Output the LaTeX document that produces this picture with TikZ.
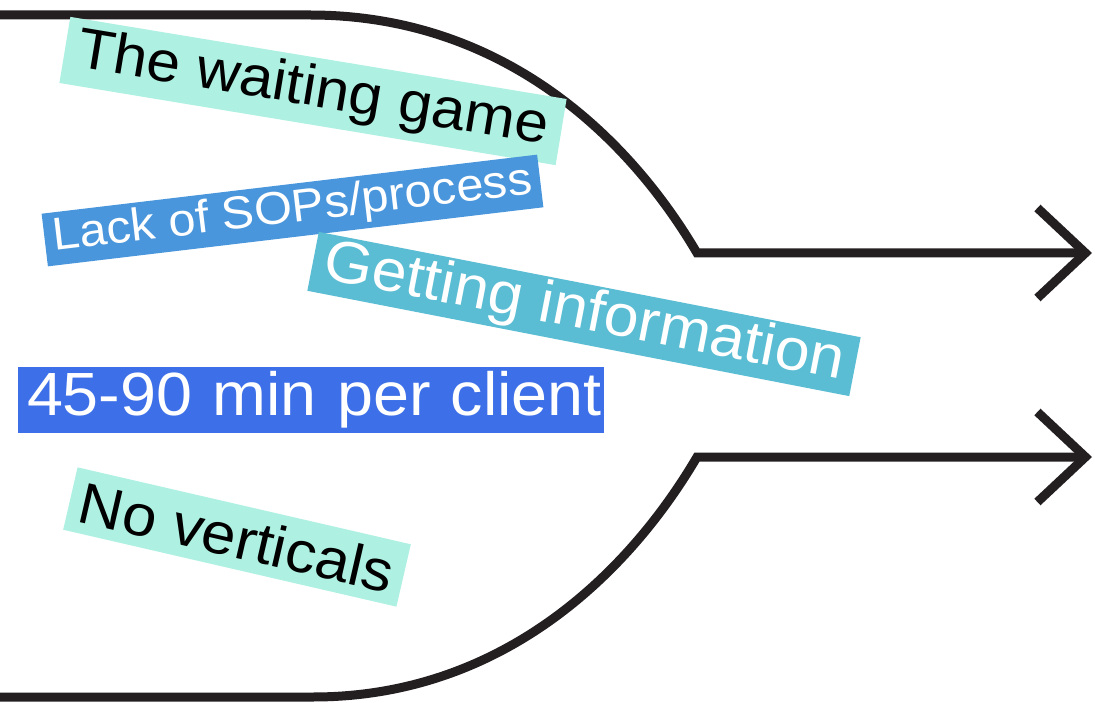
\documentclass[tikz,border=0pt]{standalone}
\usepackage{fontspec}
\setmainfont[FakeStretch=1.06]{Liberation Sans}
\usetikzlibrary{arrows.meta,positioning}
\definecolor{mint}{HTML}{AEF0E1}
\definecolor{sopblue}{HTML}{4A96DC}
\definecolor{infoteal}{HTML}{5ABDD3}
\definecolor{timeblue}{HTML}{3D70E8}
\definecolor{ink}{HTML}{231F20}
\tikzstyle{tag} = [inner sep=0pt, align=center]

\begin{document}
\begin{tikzpicture}[
            x = 1pt, y = -1pt, % pixel grid, origin top left
            > = {Straight Barb[length=48pt, width=90pt, sharp]}, % open chevron
            funnel/.style = {draw=ink, line width=9pt, line join=miter}
        ]

        \tikzstyle{light tag}=[tag, fill=mint, text=black]
        \tikzstyle{dark tag}=[tag, text=white]

        \useasboundingbox (0,0) rectangle (1095,703);

        % funnel outline
        \coordinate (top start) at (-10,15);
        \coordinate (top bend) at (310,15);
        \coordinate (top kink) at (697,253);
        \coordinate (top tip) at (1092,253);
        \coordinate (bot start) at (-10,697);
        \coordinate (bot bend) at (313,697);
        \coordinate (bot kink) at (697,457);
        \coordinate (bot tip) at (1092,457);

        \draw[funnel, ->] (top start) -- (top bend)
            .. controls (500,15) and (627,134) .. (top kink) -- (top tip);
        \draw[funnel, ->] (bot start) -- (bot bend)
            .. controls (500,697) and (627,576) .. (bot kink) -- (bot tip);

        % labels
        \node[light tag, rotate=-9.4, minimum width=503pt, minimum height=67pt,
            font=\fontsize{57}{60}\selectfont] (waiting) at (313,91) {The waiting game};
        \node[dark tag, fill=sopblue, rotate=6.8, minimum width=499pt, minimum height=53pt,
            font=\fontsize{46}{50}\selectfont] (sops) at (292.5,210.5) {Lack of SOPs/process};
        \node[dark tag, fill=infoteal, rotate=-11, minimum width=552pt, minimum height=60pt,
            font=\fontsize{59}{60}\selectfont] (info) at (584,314) {Getting information};
        \node[dark tag, fill=timeblue, text width=582pt, inner xsep=2pt, align=right,
            minimum height=66pt, font=\fontsize{61}{62}\selectfont] (time) at (311,400) {45-90 min per client};
        \node[light tag, rotate=-13, minimum width=342pt, minimum height=64pt,
            font=\fontsize{58}{60}\selectfont] (verticals) at (237,537) {No verticals};

    \end{tikzpicture}
\end{document}
